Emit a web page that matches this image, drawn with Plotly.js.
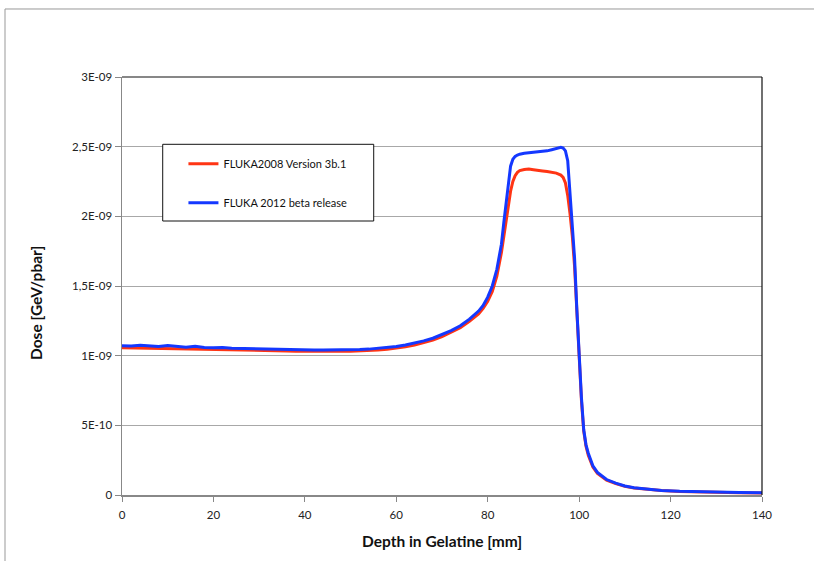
<!DOCTYPE html>
<html>
<head>
<meta charset="utf-8">
<script src="https://cdn.plot.ly/plotly-3.0.1.min.js"></script>
<style>
html,body{margin:0;padding:0;background:#fff;}
#chart{width:814px;height:561px;}
</style>
</head>
<body>
<div id="chart"></div>
<script>
// Depth in gelatine [mm]
const depth = [0,2,4,6,8,10,12,14,16,18,20,22,24,26,28,30,32,34,36,38,40,42,44,46,48,50,52,54,56,58,60,62,64,66,68,70,72,74,76,78,79,80,81,82,83,83.5,84,84.5,85,85.5,86,86.5,87,88,89,90,91,92,93,94,95,96,96.5,97,97.5,98,98.5,99,99.5,100,100.5,101,101.5,102,103,104,105,106,108,110,112,115,118,122,126,130,135,140];

// FLUKA2008 Version 3b.1 (red)
const doseFluka2008 = [1.057e-9,1.056e-9,1.055e-9,1.054e-9,1.053e-9,1.051e-9,1.050e-9,1.049e-9,1.049e-9,1.047e-9,1.045e-9,1.045e-9,1.043e-9,1.042e-9,1.040e-9,1.038e-9,1.036e-9,1.035e-9,1.034e-9,1.032e-9,1.031e-9,1.030e-9,1.030e-9,1.030e-9,1.031e-9,1.032e-9,1.034e-9,1.036e-9,1.040e-9,1.046e-9,1.054e-9,1.064e-9,1.077e-9,1.093e-9,1.112e-9,1.136e-9,1.166e-9,1.200e-9,1.246e-9,1.300e-9,1.340e-9,1.390e-9,1.460e-9,1.570e-9,1.740e-9,1.850e-9,1.960e-9,2.080e-9,2.180e-9,2.250e-9,2.292e-9,2.316e-9,2.328e-9,2.336e-9,2.340e-9,2.335e-9,2.328e-9,2.326e-9,2.322e-9,2.318e-9,2.310e-9,2.296e-9,2.280e-9,2.240e-9,2.150e-9,2.020e-9,1.860e-9,1.640e-9,1.300e-9,0.950e-9,0.680e-9,0.460e-9,0.350e-9,0.285e-9,0.200e-9,0.155e-9,0.128e-9,0.107e-9,0.082e-9,0.063e-9,0.050e-9,0.039e-9,0.032e-9,0.026e-9,0.022e-9,0.019e-9,0.017e-9,0.015e-9];

// FLUKA 2012 beta release (blue)
const doseFluka2012 = [1.072e-9,1.070e-9,1.074e-9,1.068e-9,1.066e-9,1.072e-9,1.064e-9,1.060e-9,1.068e-9,1.058e-9,1.056e-9,1.058e-9,1.054e-9,1.052e-9,1.050e-9,1.048e-9,1.046e-9,1.044e-9,1.042e-9,1.041e-9,1.040e-9,1.040e-9,1.040e-9,1.040e-9,1.041e-9,1.042e-9,1.044e-9,1.047e-9,1.052e-9,1.058e-9,1.066e-9,1.076e-9,1.090e-9,1.106e-9,1.125e-9,1.150e-9,1.180e-9,1.215e-9,1.262e-9,1.320e-9,1.360e-9,1.420e-9,1.500e-9,1.620e-9,1.800e-9,1.950e-9,2.100e-9,2.260e-9,2.360e-9,2.410e-9,2.430e-9,2.440e-9,2.446e-9,2.452e-9,2.455e-9,2.458e-9,2.462e-9,2.465e-9,2.470e-9,2.478e-9,2.488e-9,2.495e-9,2.490e-9,2.470e-9,2.400e-9,2.180e-9,1.950e-9,1.700e-9,1.330e-9,0.980e-9,0.700e-9,0.470e-9,0.360e-9,0.300e-9,0.210e-9,0.162e-9,0.133e-9,0.111e-9,0.085e-9,0.065e-9,0.052e-9,0.040e-9,0.033e-9,0.027e-9,0.023e-9,0.020e-9,0.018e-9,0.016e-9];

const seriesNames = ['FLUKA2008 Version 3b.1', 'FLUKA 2012 beta release'];
const xTickVals = [0,20,40,60,80,100,120,140];
const yTickVals = [0,5e-10,1e-9,1.5e-9,2e-9,2.5e-9,3e-9];
const yTickText = ['0','5E-10','1E-09','1,5E-09','2E-09','2,5E-09','3E-09'];
const xTitle = 'Depth in Gelatine [mm]';
const yTitle = 'Dose [GeV/pbar]';

const FONT = 'Lato, "Open Sans", sans-serif';

const traces = [
  {x: depth, y: doseFluka2008, name: seriesNames[0], type: 'scatter', mode: 'lines',
   line: {color: '#ff3514', width: 3}, legendgroup: 'a'},
  {x: depth, y: doseFluka2012, name: seriesNames[1], type: 'scatter', mode: 'lines',
   line: {color: '#1438ff', width: 3}, legendgroup: 'b'}
];

const layout = {
  width: 814, height: 561,
  margin: {l: 122, r: 52, t: 77, b: 66},
  paper_bgcolor: '#fff', plot_bgcolor: '#fff',
  font: {family: FONT, size: 11, color: '#222'},
  showlegend: true,
  legend: {x: 0.096, y: 0.827, xanchor: 'left', yanchor: 'top', bgcolor: 'rgba(0,0,0,0)',
           borderwidth: 0, tracegroupgap: 20, font: {family: FONT, size: 11, color: '#111'}},
  xaxis: {range: [0, 140], tickvals: xTickVals, ticks: 'outside', ticklen: 5, tickcolor: '#888',
          showline: true, linecolor: '#888', linewidth: 1.5, showgrid: false, zeroline: false,
          ticklabelstandoff: 4, tickfont: {family: FONT, size: 11.5, color: '#222'}},
  yaxis: {range: [0, 3e-9], tickvals: yTickVals, ticktext: yTickText, ticks: 'outside', ticklen: 6,
          tickcolor: '#888', showline: true, linecolor: '#888', linewidth: 1.5, showgrid: true,
          gridcolor: '#a8a8a8', gridwidth: 1, zeroline: false, ticklabelstandoff: 0,
          tickfont: {family: FONT, size: 11.5, color: '#222'}},
  annotations: [
    {text: '<b>' + xTitle + '</b>', xref: 'paper', yref: 'paper', x: 0.5, y: (495 - 541) / 418,
     showarrow: false, xanchor: 'center', yanchor: 'middle', font: {family: FONT, size: 15.5, color: '#111'}},
    {text: '<b>' + yTitle + '</b>', xref: 'paper', yref: 'paper', x: (36 - 122) / 640, y: (495 - 303) / 418,
     showarrow: false, textangle: -90, xanchor: 'center', yanchor: 'middle', font: {family: FONT, size: 15.5, color: '#111'}}
  ],
  shapes: [
    {type: 'line', xref: 'paper', yref: 'paper', x0: 0, x1: 1, y0: 1, y1: 1, line: {color: '#111', width: 1.2}},
    {type: 'line', xref: 'paper', yref: 'paper', x0: 1, x1: 1, y0: 0, y1: 1, line: {color: '#111', width: 1.2}},
    {type: 'rect', xref: 'paper', yref: 'paper', x0: 0.0636, x1: 0.3933, y0: 0.6555, y1: 0.839,
     line: {color: '#111', width: 1}, fillcolor: '#fff', layer: 'above'},
    {type: 'line', xref: 'paper', yref: 'paper', x0: -0.1828, x1: 1.2, y0: 1.1627, y1: 1.1627, line: {color: '#999', width: 1}},
    {type: 'line', xref: 'paper', yref: 'paper', x0: -0.1828, x1: -0.1828, y0: 1.1627, y1: -0.2, line: {color: '#999', width: 1}}
  ]
};

Plotly.newPlot('chart', traces, layout, {displayModeBar: false, staticPlot: true});
</script>
</body>
</html>
